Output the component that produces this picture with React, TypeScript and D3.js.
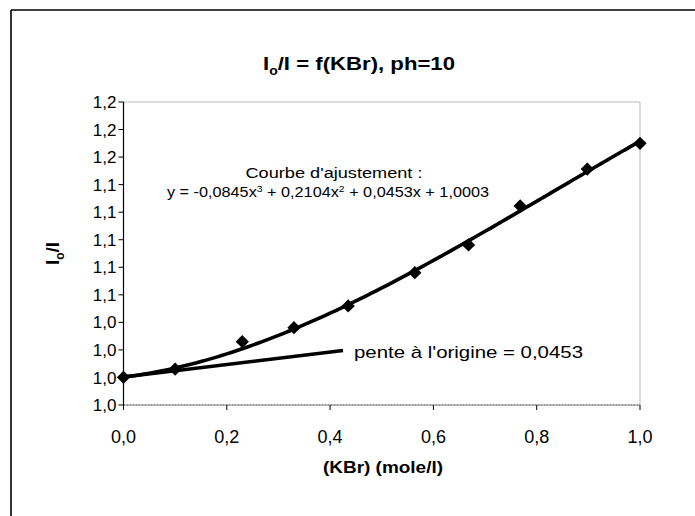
import React from "react";
import * as d3 from "d3";

const xValues = [0, 0.1, 0.23, 0.33, 0.435, 0.564, 0.668, 0.768, 0.898, 1.0];
const yValues = [1.0001, 1.0061, 1.026, 1.0361, 1.0519, 1.0761, 1.0962, 1.1245, 1.1513, 1.170];
const fitCoefficients = [1.0003, 0.0453, 0.2104, -0.0845]; // c0 + c1 x + c2 x^2 + c3 x^3
const tangentSlope = 0.0453;
const tangentEndX = 0.425;
const yTicks = [0.98, 1.0, 1.02, 1.04, 1.06, 1.08, 1.1, 1.12, 1.14, 1.16, 1.18, 1.2];
const xTicks = [0, 0.2, 0.4, 0.6, 0.8, 1.0];

const W = 695;
const H = 516;
const M = { left: 123.5, right: 640, top: 102, bottom: 405 };
const FONT = "'Liberation Sans', Arial, sans-serif";

export default function App() {
  const x = d3.scaleLinear().domain([0, 1]).range([M.left, M.right]);
  const y = d3.scaleLinear().domain([0.98, 1.2]).range([M.bottom, M.top]);
  const fmt = (v: number) => d3.format(".1f")(v).replace(".", ",");

  const poly = (v: number) => fitCoefficients.reduce((s, c, i) => s + c * Math.pow(v, i), 0);
  const fitPts = d3.range(0, 1.0001, 0.01).map((v) => [v, poly(v)] as [number, number]);
  const line = d3.line<[number, number]>().x((d) => x(d[0])).y((d) => y(d[1])).curve(d3.curveMonotoneX);
  const tangentPts: [number, number][] = [
    [0, fitCoefficients[0]],
    [tangentEndX, fitCoefficients[0] + tangentSlope * tangentEndX],
  ];
  const diamond = d3.symbol().type(d3.symbolSquare).size(88)() as string;

  return (
    <svg width={W} height={H} style={{ position: "absolute", left: 0, top: 0, background: "#fff" }} fontFamily={FONT}>
      <rect x={0} y={0} width={W} height={H} fill="#fff" />
      {/* outer chart frame */}
      <line x1={11} y1={10} x2={W} y2={10} stroke="#000" strokeWidth={1.6} />
      <line x1={11} y1={10} x2={11} y2={H} stroke="#000" strokeWidth={1.6} />

      {/* title */}
      <text x={359} y={70} textAnchor="middle" fontSize={19} fontWeight="bold" textLength={192} lengthAdjust="spacingAndGlyphs">
        I<tspan fontSize={12} dy={5}>o</tspan>
        <tspan dy={-5}>/I = f(KBr), ph=10</tspan>
      </text>

      {/* plot border */}
      <rect x={M.left} y={M.top} width={M.right - M.left} height={M.bottom - M.top} fill="none" stroke="#777" strokeWidth={1} strokeDasharray="1,1" />
      <line x1={M.left} y1={M.top} x2={M.left} y2={M.bottom} stroke="#000" strokeWidth={1.2} />
      <line x1={M.left} y1={M.bottom} x2={M.right} y2={M.bottom} stroke="#555" strokeWidth={1} strokeDasharray="2,1" />

      {/* y ticks */}
      {yTicks.map((t, i) => (
        <g key={"y" + i}>
          <line x1={M.left - 5} x2={M.left} y1={y(t)} y2={y(t)} stroke="#000" />
          <text x={M.left - 7} y={y(t)} dy="0.36em" textAnchor="end" fontSize={17}>{fmt(t)}</text>
        </g>
      ))}
      {/* x ticks */}
      {xTicks.map((t, i) => (
        <g key={"x" + i}>
          <line x1={x(t)} x2={x(t)} y1={M.bottom} y2={M.bottom + 5} stroke="#000" />
          <text x={x(t)} y={M.bottom + 38} textAnchor="middle" fontSize={18}>{fmt(t)}</text>
        </g>
      ))}

      {/* axis titles */}
      <text x={383} y={473} textAnchor="middle" fontSize={17} fontWeight="bold" textLength={120} lengthAdjust="spacingAndGlyphs">(KBr) (mole/l)</text>
      <text transform={`translate(59,${(M.top + M.bottom) / 2}) rotate(-90)`} textAnchor="middle" fontSize={19} fontWeight="bold">
        I<tspan fontSize={12} dy={5}>o</tspan>
        <tspan dy={-5}>/I</tspan>
      </text>

      {/* fit curve */}
      <path d={line(fitPts) || ""} fill="none" stroke="#000" strokeWidth={3.6} strokeLinejoin="round" />
      {/* tangent */}
      <path d={line(tangentPts) || ""} fill="none" stroke="#000" strokeWidth={3.4} />

      {/* points */}
      {xValues.map((v, i) => (
        <path key={"p" + i} d={diamond} transform={`translate(${x(v)},${y(yValues[i])}) rotate(45)`} fill="#000" />
      ))}

      {/* annotations */}
      <text x={334} y={178} textAnchor="middle" fontSize={14} textLength={177} lengthAdjust="spacingAndGlyphs">Courbe d'ajustement :</text>
      <text x={328} y={197} textAnchor="middle" fontSize={14} textLength={322} lengthAdjust="spacingAndGlyphs">
        y = -0,0845x<tspan fontSize={9} dy={-5}>3</tspan><tspan dy={5}> + 0,2104x</tspan><tspan fontSize={9} dy={-5}>2</tspan><tspan dy={5}> + 0,0453x + 1,0003</tspan>
      </text>
      <text x={354} y={358} fontSize={17} textLength={229} lengthAdjust="spacingAndGlyphs">pente à l'origine = 0,0453</text>
    </svg>
  );
}
